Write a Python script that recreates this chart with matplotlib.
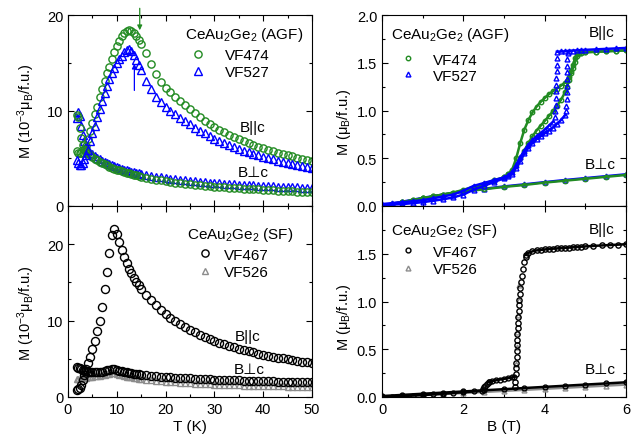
import matplotlib
matplotlib.use("Agg")
import matplotlib.pyplot as plt
from matplotlib.lines import Line2D
from matplotlib.ticker import MultipleLocator, FixedLocator, FormatStrFormatter

plt.rcParams["font.family"] = ["Liberation Sans", "DejaVu Sans"]
plt.rcParams["mathtext.fontset"] = "custom"
plt.rcParams["mathtext.rm"] = "Liberation Sans"
plt.rcParams["mathtext.it"] = "Liberation Sans:italic"
plt.rcParams["font.size"] = 11

GREEN = "#228b22"
BLUE = "#0000ff"
GRAY = "#8c8c8c"
BLACK = "#000000"
FS = 11
MEW = 1.0

# ---- M(T) data, B = 0.1 T (10^-3 muB/f.u.) ----
T = [1.8, 2.1, 2.4, 2.7, 3.0, 3.3, 3.6, 4.0, 4.5, 5.0, 5.5, 6.0, 6.5, 7.0, 7.5,
     8.0, 8.5, 9.0, 9.5, 10.0, 10.5, 11.0, 11.5, 12.0, 12.5, 13.0, 13.5, 14.0,
     14.5, 15.0, 16, 17, 18, 19, 20, 21, 22, 23, 24, 25, 26, 27, 28, 29, 30,
     31, 32, 33, 34, 35, 36, 37, 38, 39, 40, 41, 42, 43, 44, 45, 46, 47, 48,
     49, 50]

agf474_par = [5.8, 5.6, 5.5, 5.5, 5.6, 5.9, 6.3, 7.0, 7.9, 8.7, 9.6, 10.4, 11.4,
              12.3, 13.1, 13.9, 14.6, 15.4, 16.1, 16.8, 17.3, 17.8, 18.15, 18.35,
              18.45, 18.35, 18.15, 17.8, 17.4, 17.0,
              16.0, 14.9, 13.8, 13.0, 12.4, 11.9, 11.4, 10.95, 10.55, 10.15,
              9.75, 9.35, 8.95, 8.6, 8.28, 7.99, 7.71, 7.45, 7.21, 6.98,
              6.77, 6.57, 6.38, 6.2, 6.03, 5.87, 5.72, 5.58, 5.44, 5.31,
              5.19, 5.07, 4.96, 4.85, 4.74]
agf527_par = [4.8, 4.5, 4.3, 4.3, 4.5, 4.9, 5.3, 5.9, 6.8, 7.6, 8.4, 9.3, 10.2,
              11.0, 11.8, 12.6, 13.3, 13.9, 14.5, 15.0, 15.4, 15.75, 16.1, 16.3,
              16.4, 16.2, 15.8, 15.3, 14.8, 14.2,
              13.1, 12.2, 11.4, 10.85, 10.4, 10.0, 9.6, 9.25, 8.9, 8.55,
              8.2, 7.9, 7.6, 7.32, 7.05, 6.8, 6.57, 6.36, 6.16, 5.97,
              5.79, 5.62, 5.45, 5.3, 5.15, 5.01, 4.88, 4.75, 4.63, 4.51,
              4.4, 4.29, 4.19, 4.09, 3.99]
agf474_perp = [9.5, 9.3, 8.2, 7.1, 6.4, 6.0, 5.8, 5.55, 5.35, 5.15, 4.95, 4.8,
               4.65, 4.5, 4.38, 4.25, 4.13, 4.02, 3.92, 3.82, 3.73, 3.64, 3.56,
               3.48, 3.41, 3.34, 3.27, 3.2, 3.14, 3.08,
               2.97, 2.87, 2.77, 2.68, 2.6, 2.53, 2.46, 2.4, 2.34, 2.28,
               2.23, 2.18, 2.13, 2.08, 2.04, 2.0, 1.96, 1.92, 1.88, 1.85,
               1.82, 1.79, 1.76, 1.73, 1.7, 1.67, 1.64, 1.61, 1.59, 1.56,
               1.54, 1.51, 1.49, 1.47, 1.45]
agf527_perp = [9.2, 9.8, 9.4, 8.4, 7.4, 6.8, 6.3, 5.9, 5.6, 5.4, 5.2, 5.05, 4.9,
               4.75, 4.62, 4.5, 4.38, 4.27, 4.17, 4.07, 3.98, 3.9, 3.82, 3.75,
               3.68, 3.61, 3.55, 3.49, 3.43, 3.37,
               3.27, 3.17, 3.08, 3.0, 2.93, 2.86, 2.8, 2.74, 2.68, 2.63,
               2.58, 2.53, 2.49, 2.45, 2.41, 2.37, 2.33, 2.3, 2.27, 2.24,
               2.21, 2.18, 2.15, 2.12, 2.1, 2.07, 2.05, 2.03, 2.01, 1.99,
               1.97, 1.95, 1.93, 1.91, 1.9]
arrow_T = [14.7, 13.6]  # transition marks (VF474, VF527)

sf467_par = [0.9, 1.0, 1.2, 1.6, 2.2, 2.9, 3.6, 4.4, 5.3, 6.3, 7.3, 8.6, 10.0,
             11.8, 14.2, 16.4, 18.8, 21.2, 22.0, 21.3, 20.3, 19.3, 18.3, 17.5,
             16.8, 16.2, 15.6, 15.1, 14.6, 14.2,
             13.4, 12.7, 12.0, 11.4, 10.9, 10.4, 9.95, 9.55, 9.15, 8.8,
             8.45, 8.15, 7.85, 7.6, 7.35, 7.12, 6.9, 6.7, 6.51, 6.33,
             6.16, 6.0, 5.84, 5.69, 5.55, 5.42, 5.29, 5.17, 5.05, 4.94,
             4.83, 4.73, 4.63, 4.54, 4.45]
sf467_perp = [3.9, 3.85, 3.75, 3.65, 3.55, 3.45, 3.38, 3.3, 3.25, 3.22, 3.22,
              3.24, 3.28, 3.33, 3.4, 3.48, 3.56, 3.62, 3.6, 3.5, 3.42, 3.35,
              3.28, 3.22, 3.16, 3.11, 3.06, 3.01, 2.97, 2.93,
              2.86, 2.79, 2.73, 2.68, 2.63, 2.58, 2.54, 2.5, 2.46, 2.43,
              2.39, 2.36, 2.33, 2.3, 2.28, 2.25, 2.23, 2.2, 2.18, 2.16,
              2.14, 2.12, 2.1, 2.08, 2.06, 2.05, 2.03, 2.01, 2.0, 1.98,
              1.97, 1.96, 1.94, 1.93, 1.92]
sf526_perp = [2.3, 2.35, 2.4, 2.45, 2.5, 2.52, 2.55, 2.58, 2.62, 2.66, 2.7,
              2.75, 2.8, 2.86, 2.92, 2.99, 3.06, 3.12, 3.08, 2.98, 2.9, 2.82,
              2.75, 2.68, 2.62, 2.56, 2.5, 2.45, 2.4, 2.35,
              2.27, 2.19, 2.12, 2.06, 2.0, 1.95, 1.9, 1.86, 1.82, 1.78,
              1.75, 1.71, 1.68, 1.65, 1.63, 1.6, 1.58, 1.56, 1.54, 1.52,
              1.5, 1.48, 1.46, 1.45, 1.43, 1.42, 1.4, 1.39, 1.38, 1.37,
              1.36, 1.35, 1.34, 1.33, 1.32]

# ---- M(B) data, T = 2 K (muB/f.u.) ----
agf474_up_B = [0, 0.25, 0.5, 0.75, 1.0, 1.25, 1.5, 1.75, 2.0, 2.25, 2.5, 2.75, 3.0,
               3.1, 3.2, 3.3, 3.4, 3.5, 3.6, 3.7, 3.8, 3.9, 4.0, 4.1, 4.2, 4.3,
               4.4, 4.5, 4.55, 4.6, 4.65, 4.7, 4.75, 4.8, 4.85, 4.9,
               5.0, 5.25, 5.5, 5.75, 6.0]
agf474_up_M = [0.0, 0.02, 0.04, 0.06, 0.08, 0.1, 0.12, 0.14, 0.16, 0.19, 0.22, 0.26, 0.3,
               0.33, 0.37, 0.43, 0.5, 0.58, 0.66, 0.73, 0.79, 0.84, 0.89, 0.94, 0.99,
               1.05, 1.11, 1.19, 1.25, 1.32, 1.39, 1.45, 1.51, 1.57, 1.6, 1.605,
               1.61, 1.615, 1.62, 1.625, 1.63]
agf474_dn_B = [6.0, 5.75, 5.5, 5.25, 5.0, 4.9, 4.85, 4.8, 4.75, 4.7, 4.65, 4.6, 4.55,
               4.5, 4.4, 4.3, 4.2, 4.1, 4.0, 3.9, 3.8, 3.7, 3.6, 3.5, 3.4, 3.3, 3.2,
               3.1, 3.0, 2.75, 2.5, 2.25, 2.0, 1.75, 1.5, 1.25, 1.0, 0.75, 0.5,
               0.25, 0.0]
agf474_dn_M = [1.63, 1.625, 1.62, 1.615, 1.61, 1.605, 1.6, 1.59, 1.55, 1.48, 1.41,
               1.35, 1.31, 1.29, 1.26, 1.23, 1.2, 1.17, 1.13, 1.09, 1.04, 0.98,
               0.9, 0.8, 0.66, 0.5, 0.38, 0.33, 0.3, 0.27, 0.23, 0.2, 0.17, 0.14,
               0.12, 0.1, 0.08, 0.06, 0.04, 0.02, 0.0]

agf527_up_B = [0, 0.25, 0.5, 0.75, 1.0, 1.25, 1.5, 1.75, 2.0, 2.25, 2.5, 2.75, 3.0,
               3.1, 3.2, 3.3, 3.4, 3.5, 3.6, 3.7, 3.8, 3.9, 4.0, 4.1, 4.2, 4.3,
               4.4, 4.5]
agf527_up_M = [0.01, 0.015, 0.02, 0.03, 0.04, 0.055, 0.07, 0.09, 0.12, 0.17, 0.21,
               0.25, 0.29, 0.31, 0.34, 0.4, 0.47, 0.55, 0.61, 0.66, 0.7, 0.73,
               0.76, 0.79, 0.82, 0.86, 0.9, 0.95]
agf527_jup_B = [4.52, 4.53, 4.54, 4.54, 4.55, 4.55, 4.55, 4.56, 4.56, 4.57]
agf527_jup_M = [0.99, 1.05, 1.12, 1.19, 1.26, 1.33, 1.4, 1.47, 1.54, 1.6]
agf527_sat_B = [4.3, 4.4, 4.5, 4.6, 4.7, 4.8, 4.9, 5.0, 5.25, 5.5, 5.75, 6.0]
agf527_sat_M = [1.615, 1.618, 1.62, 1.625, 1.628, 1.63, 1.633, 1.635, 1.64, 1.645,
                1.65, 1.655]
agf527_jdn_B = [4.3, 4.3, 4.3, 4.29, 4.29, 4.28, 4.28, 4.27, 4.26, 4.25]
agf527_jdn_M = [1.55, 1.48, 1.41, 1.34, 1.27, 1.2, 1.13, 1.06, 0.99, 0.93]
agf527_dn_B = [4.2, 4.1, 4.0, 3.9, 3.8, 3.7, 3.6, 3.5, 3.4, 3.3, 3.2, 3.1, 3.0,
               2.75, 2.5, 2.25, 2.0, 1.75, 1.5, 1.25, 1.0, 0.75, 0.5, 0.25, 0.0]
agf527_dn_M = [0.88, 0.84, 0.8, 0.76, 0.73, 0.69, 0.64, 0.58, 0.51, 0.43, 0.36,
               0.32, 0.3, 0.27, 0.24, 0.21, 0.16, 0.12, 0.1, 0.08, 0.06, 0.05,
               0.04, 0.03, 0.02]

perp_B = [0, 0.5, 1, 1.5, 2, 2.5, 3, 3.5, 4, 4.5, 5, 5.5, 6]
agf474_perp_M = [0.0, 0.04, 0.08, 0.115, 0.15, 0.175, 0.2, 0.22, 0.245, 0.265,
                 0.285, 0.305, 0.325]
agf527_perp_M = [0.005, 0.045, 0.085, 0.12, 0.152, 0.18, 0.205, 0.227, 0.25,
                 0.272, 0.292, 0.312, 0.332]

sf467_base_B = [0, 0.25, 0.5, 0.75, 1.0, 1.25, 1.5, 1.75, 2.0, 2.25, 2.45]
sf467_base_M = [0.0, 0.005, 0.01, 0.015, 0.02, 0.027, 0.034, 0.042, 0.05, 0.058, 0.065]
sf467_step_B = [2.48, 2.5, 2.53, 2.57, 2.62]
sf467_step_M = [0.08, 0.1, 0.12, 0.14, 0.155]
sf467_mid_B = [2.62, 2.7, 2.8, 2.9, 3.0, 3.1, 3.2, 3.25]
sf467_mid_M = [0.155, 0.165, 0.175, 0.183, 0.19, 0.197, 0.205, 0.21]
sf467_rise_B = [3.27, 3.28, 3.29, 3.3, 3.3, 3.31, 3.31, 3.32, 3.32, 3.33, 3.34, 3.34,
                3.35, 3.36, 3.37, 3.38, 3.39, 3.4, 3.42, 3.44, 3.46, 3.49, 3.53]
sf467_rise_M = [0.1, 0.16, 0.24, 0.3, 0.36, 0.42, 0.48, 0.54, 0.6, 0.66, 0.72, 0.78,
                0.84, 0.9, 0.96, 1.02, 1.08, 1.14, 1.2, 1.27, 1.34, 1.41, 1.47]
sf467_sat_B = [3.53, 3.6, 3.7, 3.8, 3.9, 4.0, 4.1, 4.2, 4.3, 4.4, 4.5, 4.6, 4.7,
               4.8, 4.9, 5.0, 5.2, 5.4, 5.6, 5.8, 6.0]
sf467_sat_M = [1.49, 1.51, 1.525, 1.535, 1.54, 1.545, 1.55, 1.553, 1.556, 1.559,
               1.562, 1.565, 1.568, 1.571, 1.574, 1.577, 1.582, 1.587, 1.591,
               1.595, 1.6]
sf526_rise_B = [3.29, 3.31, 3.33, 3.34, 3.36, 3.38]
sf526_rise_M = [0.35, 0.52, 0.68, 0.86, 1.02, 1.17]
sf467_perp_M = [0.01, 0.022, 0.034, 0.046, 0.058, 0.07, 0.082, 0.094, 0.106,
                0.118, 0.13, 0.142, 0.154]
sf526_perp_M = [0.0, 0.01, 0.02, 0.031, 0.042, 0.053, 0.064, 0.075, 0.086,
                0.097, 0.108, 0.119, 0.13]


def pts(ax, x, y, color, marker, ms, line=False, z=2):
    ax.plot(x, y, ls="-" if line else "none", lw=1.8, color=color, marker=marker,
            ms=ms, mfc="none", mec=color, mew=MEW, zorder=z)


def style(ax, xlim, ylim, xmaj, xmin, ymaj, ymin, show_x):
    ax.set_xlim(*xlim)
    ax.set_ylim(*ylim)
    ax.xaxis.set_major_locator(MultipleLocator(xmaj))
    ax.xaxis.set_minor_locator(MultipleLocator(xmin))
    ax.yaxis.set_major_locator(FixedLocator(ymaj))
    ax.yaxis.set_minor_locator(MultipleLocator(ymin))
    ax.tick_params(which="both", direction="in", top=True, right=True,
                   width=0.8, labelsize=10.5)
    ax.tick_params(which="major", length=4.5)
    ax.tick_params(which="minor", length=2.5)
    ax.tick_params(labelbottom=show_x)
    for s in ax.spines.values():
        s.set_linewidth(0.8)


def legend(ax, title, title_xy, handles, labels, anchor, hl, hp, ls):
    # sample title sits above the marker entries
    ax.text(title_xy[0], title_xy[1], title, transform=ax.transAxes,
            ha="left", va="baseline", fontsize=FS)
    ax.legend(handles, labels, loc="upper left", bbox_to_anchor=anchor,
              frameon=False, fontsize=FS, borderpad=0, borderaxespad=0,
              handlelength=hl, handletextpad=hp, labelspacing=ls, numpoints=1)


def handle(color, marker, ms):
    return Line2D([], [], ls="none", marker=marker, ms=ms, mfc="none",
                  mec=color, mew=MEW)


fig = plt.figure(figsize=(6.33, 4.39), dpi=100)
W, H = 633, 439
ax_tl = fig.add_axes([68 / W, 1 - 207 / H, 244 / W, 191 / H])
ax_bl = fig.add_axes([68 / W, 1 - 398 / H, 244 / W, 191 / H])
ax_tr = fig.add_axes([382 / W, 1 - 207 / H, 244 / W, 191 / H])
ax_br = fig.add_axes([382 / W, 1 - 398 / H, 244 / W, 191 / H])

ylab_T = r"M (10$^{\mathregular{-3}}$μ$_{\mathregular{B}}$/f.u.)"
ylab_B = r"M (μ$_{\mathregular{B}}$/f.u.)"
LFS = 10.5

# top-left: AGF M(T)
pts(ax_tl, T, agf527_perp, BLUE, "^", 5.2)
pts(ax_tl, T, agf474_perp, GREEN, "o", 5.2)
pts(ax_tl, T, agf474_par, GREEN, "o", 5.2)
pts(ax_tl, T, agf527_par, BLUE, "^", 5.2)
ax_tl.annotate("", xy=(arrow_T[0], 18.4), xytext=(arrow_T[0], 20.7),
               arrowprops=dict(arrowstyle="-|>", color=GREEN, lw=0.9,
                               shrinkA=0, shrinkB=0, mutation_scale=7),
               annotation_clip=False)
ax_tl.annotate("", xy=(arrow_T[1], 14.9), xytext=(arrow_T[1], 12.1),
               arrowprops=dict(arrowstyle="-|>", color=BLUE, lw=0.9,
                               shrinkA=0, shrinkB=0, mutation_scale=7))
style(ax_tl, (0, 50), (0, 20), 10, 5, [0, 10, 20], 5, False)
ax_tl.set_ylabel(ylab_T, fontsize=LFS)
ax_tl.yaxis.set_label_coords(-0.125, 0.5)
ax_tl.text(0.758, 0.414, "B||c", transform=ax_tl.transAxes, ha="center", va="center", fontsize=FS)
ax_tl.text(0.758, 0.178, "B⊥c", transform=ax_tl.transAxes, ha="center", va="center", fontsize=FS)
legend(ax_tl, r"CeAu$_2$Ge$_2$ (AGF)", (0.48, 0.882),
       [handle(GREEN, "o", 5.2), handle(BLUE, "^", 5.2)], ["VF474", "VF527"],
       (0.48, 0.828), 1.7, 0.9, 0.23)

# bottom-left: SF M(T)
pts(ax_bl, T, sf526_perp, GRAY, "^", 5.0)
pts(ax_bl, T, sf467_perp, BLACK, "o", 5.8)
pts(ax_bl, T, sf467_par, BLACK, "o", 5.8)
style(ax_bl, (0, 50), (0, 25), 10, 5, [0, 10, 20], 5, True)
ax_bl.set_xlabel("T (K)", fontsize=FS, labelpad=2)
ax_bl.set_ylabel(ylab_T, fontsize=LFS)
ax_bl.yaxis.set_label_coords(-0.125, 0.445)
ax_bl.text(0.738, 0.321, "B||c", transform=ax_bl.transAxes, ha="center", va="center", fontsize=FS)
ax_bl.text(0.742, 0.147, "B⊥c", transform=ax_bl.transAxes, ha="center", va="center", fontsize=FS)
legend(ax_bl, r"CeAu$_2$Ge$_2$ (SF)", (0.488, 0.835),
       [handle(BLACK, "o", 5.2), handle(GRAY, "^", 5.0)], ["VF467", "VF526"],
       (0.488, 0.781), 2.3, 0.1, 0.23)

# top-right: AGF M(B)
pts(ax_tr, perp_B, agf527_perp_M, BLUE, "^", 3.5, line=True)
pts(ax_tr, perp_B, agf474_perp_M, GREEN, "o", 3.2, line=True)
pts(ax_tr, agf474_up_B, agf474_up_M, GREEN, "o", 3.2, line=True)
pts(ax_tr, agf474_dn_B, agf474_dn_M, GREEN, "o", 3.2, line=True)
pts(ax_tr, agf527_up_B, agf527_up_M, BLUE, "^", 3.5, line=True)
pts(ax_tr, agf527_dn_B, agf527_dn_M, BLUE, "^", 3.5, line=True)
pts(ax_tr, agf527_sat_B, agf527_sat_M, BLUE, "^", 3.5, line=True)
pts(ax_tr, agf527_jup_B, agf527_jup_M, BLUE, "^", 3.5)
pts(ax_tr, agf527_jdn_B, agf527_jdn_M, BLUE, "^", 3.5)
style(ax_tr, (0, 6), (0, 2.0), 2, 1, [0, 0.5, 1.0, 1.5, 2.0], 0.25, False)
ax_tr.yaxis.set_major_formatter(FormatStrFormatter("%.1f"))
ax_tr.set_ylabel(ylab_B, fontsize=LFS)
ax_tr.yaxis.set_label_coords(-0.12, 0.445)
ax_tr.text(0.902, 0.911, "B||c", transform=ax_tr.transAxes, ha="center", va="center", fontsize=FS)
ax_tr.text(0.893, 0.22, "B⊥c", transform=ax_tr.transAxes, ha="center", va="center", fontsize=FS)
legend(ax_tr, r"CeAu$_2$Ge$_2$ (AGF)", (0.037, 0.877),
       [handle(GREEN, "o", 3.2), handle(BLUE, "^", 3.5)], ["VF474", "VF527"],
       (0.037, 0.802), 2.25, 0.5, 0.12)

# bottom-right: SF M(B)
pts(ax_br, perp_B, sf526_perp_M, GRAY, "^", 3.5, line=True)
pts(ax_br, perp_B, sf467_perp_M, BLACK, "o", 3.5, line=True)
pts(ax_br, sf526_rise_B, sf526_rise_M, GRAY, "^", 3.5)
pts(ax_br, sf467_base_B, sf467_base_M, BLACK, "o", 3.5, line=True)
pts(ax_br, sf467_step_B, sf467_step_M, BLACK, "o", 3.8)
pts(ax_br, sf467_mid_B, sf467_mid_M, BLACK, "o", 3.5, line=True)
pts(ax_br, sf467_rise_B, sf467_rise_M, BLACK, "o", 3.8)
pts(ax_br, sf467_sat_B, sf467_sat_M, BLACK, "o", 3.8, line=True)
style(ax_br, (0, 6), (0, 2.0), 2, 1, [0, 0.5, 1.0, 1.5], 0.25, True)
ax_br.yaxis.set_major_formatter(FormatStrFormatter("%.1f"))
ax_br.set_xlabel("B (T)", fontsize=FS, labelpad=2)
ax_br.set_ylabel(ylab_B, fontsize=LFS)
ax_br.yaxis.set_label_coords(-0.12, 0.424)
ax_br.text(0.9, 0.88, "B||c", transform=ax_br.transAxes, ha="center", va="center", fontsize=FS)
ax_br.text(0.893, 0.147, "B⊥c", transform=ax_br.transAxes, ha="center", va="center", fontsize=FS)
legend(ax_br, r"CeAu$_2$Ge$_2$ (SF)", (0.037, 0.851),
       [handle(BLACK, "o", 3.5), handle(GRAY, "^", 3.5)], ["VF467", "VF526"],
       (0.037, 0.797), 2.25, 0.5, 0.23)

fig.savefig("out.png", dpi=100)
